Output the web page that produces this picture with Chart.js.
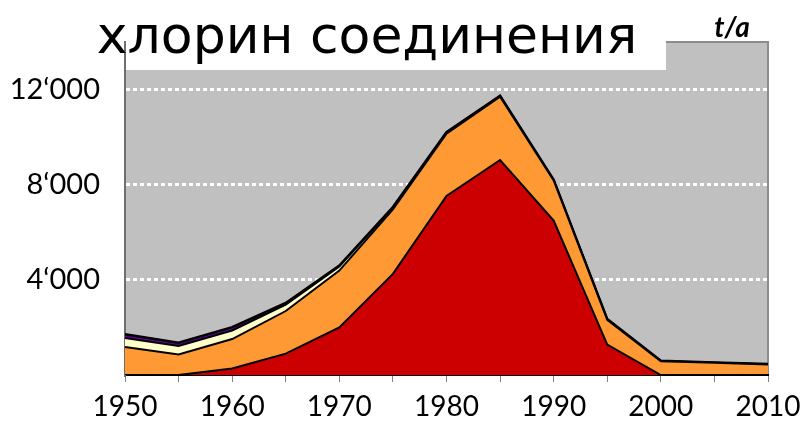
<!DOCTYPE html>
<html>
<head>
<meta charset="utf-8">
<script src="https://cdn.jsdelivr.net/npm/chart.js@4/dist/chart.umd.min.js"></script>
<style>
  html, body { margin: 0; padding: 0; background: #fff; }
  #wrap { width: 803px; height: 424px; }
</style>
</head>
<body>
<div id="wrap"><canvas id="canvas" width="803" height="424"></canvas></div>
<script>
const years = ["1950", "1955", "1960", "1965", "1970", "1975", "1980", "1985", "1990", "1995", "2000", "2005", "2010"];
const redValues = [0, 0, 270, 900, 2000, 4250, 7530, 9040, 6490, 1280, 0, 0, 0];
const orangeValues = [1180, 860, 1240, 1790, 2390, 2710, 2620, 2660, 1690, 1040, 580, 510, 440];
const yellowValues = [380, 360, 360, 270, 170, 80, 50, 30, 20, 20, 10, 10, 10];
const purpleValues = [150, 140, 140, 70, 40, 20, 10, 10, 10, 10, 10, 10, 10];
const yTicks = [4000, 8000, 12000];
const title = "хлорин соединения";
const unit = "t/a";

const tickFont = { family: "Lato", size: 28 };

const backdrop = {
  id: "backdrop",
  beforeDraw(chart) {
    const { ctx, chartArea: a } = chart;
    ctx.save();
    ctx.fillStyle = "#c0c0c0";
    ctx.fillRect(a.left, a.top, a.right - a.left, a.bottom - a.top);
    // white title box over the top left of the plot
    ctx.fillStyle = "#ffffff";
    ctx.fillRect(a.left, a.top, 666 - a.left, 70 - a.top);
    ctx.strokeStyle = "#8c8c8c";
    ctx.lineWidth = 2;
    ctx.beginPath();
    ctx.moveTo(666, a.top);
    ctx.lineTo(a.right, a.top);
    ctx.lineTo(a.right, a.bottom);
    ctx.stroke();
    ctx.restore();
  },
  afterDraw(chart) {
    const { ctx } = chart;
    ctx.save();
    ctx.fillStyle = "#000";
    ctx.textAlign = "center";
    ctx.textBaseline = "alphabetic";
    ctx.font = "52px 'DejaVu Sans'";
    ctx.fillText(title, 367, 53);
    ctx.font = "italic bold 28px Lato";
    ctx.fillText(unit, 732, 37);
    ctx.restore();
  }
};

new Chart("canvas", {
  type: "line",
  data: {
    labels: years,
    datasets: [
      { data: redValues, backgroundColor: "#cc0000", fill: "origin", borderWidth: 2 },
      { data: orangeValues, backgroundColor: "#ff9933", fill: "-1", borderWidth: 2 },
      { data: yellowValues, backgroundColor: "#ffffcc", fill: "-1", borderWidth: 2 },
      { data: purpleValues, backgroundColor: "#660099", fill: "-1", borderWidth: 2.5 },
    ].map(d => Object.assign(d, {
      borderColor: "#000",
      pointRadius: 0,
      tension: 0,
    })),
  },
  plugins: [backdrop],
  options: {
    responsive: false,
    animation: false,
    layout: { padding: { left: 0, right: 35, top: 42, bottom: 0 } },
    plugins: { legend: { display: false }, tooltip: { enabled: false } },
    scales: {
      x: {
        offset: false,
        grid: { drawOnChartArea: false, drawTicks: true, tickLength: 7, color: "#808080", lineWidth: 1 },
        border: { color: "#000", width: 2 },
        ticks: {
          font: tickFont,
          color: "#000",
          padding: 8,
          maxRotation: 0,
          autoSkip: false,
          callback: (v, i) => (i % 2 === 0 ? years[i] : ""),
        },
        afterFit: s => {
          s.height = 49;
          s.paddingLeft = 0;
          s.paddingRight = 0;
        },
      },
      y: {
        stacked: true,
        min: 0,
        max: 14000,
        afterBuildTicks: s => { s.ticks = yTicks.map(v => ({ value: v })); },
        grid: { color: "#ffffff", lineWidth: 3, drawTicks: false },
        border: { color: "#6e6e6e", width: 2, dash: [4, 3] },
        ticks: {
          font: { family: "Lato", size: 29 },
          color: "#000",
          padding: 25,
          callback: v => String(v / 1000) + "‘000",
        },
        afterFit: s => {
          s.width = 125;
          s.paddingTop = 0;
          s.paddingBottom = 0;
        },
      },
    },
  },
});
</script>
</body>
</html>
